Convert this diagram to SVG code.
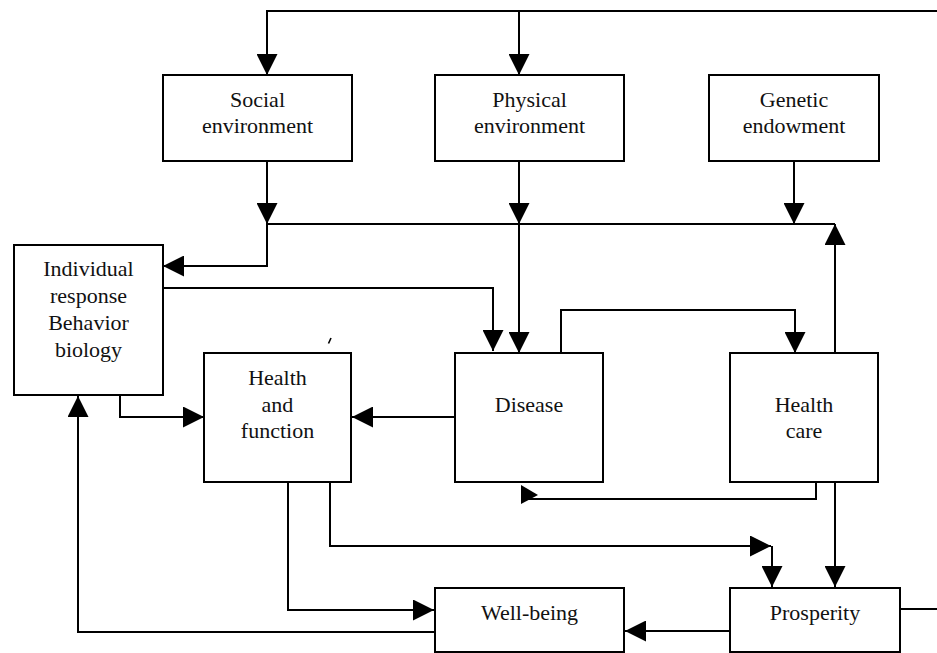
<svg xmlns="http://www.w3.org/2000/svg" width="937" height="653" viewBox="0 0 937 653">
  <style>
    .box { fill: #fff; stroke: #000; stroke-width: 2; }
    .lbl { font-family: 'Liberation Serif', 'DejaVu Serif', 'Times New Roman', serif; font-size: 22px; fill: #111; text-anchor: middle; }
    .wire { fill: none; stroke: #000; stroke-width: 2; }
    .head { fill: #000; }
  </style>
  <defs>
    <marker id="arrow" markerUnits="userSpaceOnUse" markerWidth="21" markerHeight="21" viewBox="0 0 20 20" refX="20" refY="10" orient="auto">
      <path d="M0,0 L20,10 L0,20 z" fill="#000"/>
    </marker>
  </defs>
  <rect width="937" height="653" fill="#fff"/>

  <!-- connectors -->
  <g id="connectors">
    <!-- top feedback bus into the two environment boxes -->
    <path class="wire" d="M937,11 H267 V75" marker-end="url(#arrow)"/>
    <path class="wire" d="M519,11 V75" marker-end="url(#arrow)"/>
    <!-- environment / genetics outputs onto the shared bus -->
    <path class="wire" d="M267,161 V224" marker-end="url(#arrow)"/>
    <path class="wire" d="M519,161 V224" marker-end="url(#arrow)"/>
    <path class="wire" d="M794,161 V224" marker-end="url(#arrow)"/>
    <path class="wire" d="M267,224 H835"/>
    <!-- bus to individual response -->
    <path class="wire" d="M267,224 V266 H163" marker-end="url(#arrow)"/>
    <!-- bus to disease -->
    <path class="wire" d="M519,224 V353" marker-end="url(#arrow)"/>
    <!-- individual response to disease -->
    <path class="wire" d="M163,288 H493 V351" marker-end="url(#arrow)"/>
    <!-- individual response to health and function -->
    <path class="wire" d="M120,395 V417 H204" marker-end="url(#arrow)"/>
    <!-- disease to health and function -->
    <path class="wire" d="M455,417 H352" marker-end="url(#arrow)"/>
    <!-- disease to health care -->
    <path class="wire" d="M561,353 V310 H795 V353" marker-end="url(#arrow)"/>
    <!-- health care up to the bus -->
    <path class="wire" d="M835,353 V224" marker-end="url(#arrow)"/>
    <!-- health care back to disease -->
    <path class="wire" d="M816,482 V499 H528"/>
    <polygon class="head" points="521,485 538,495 521,504"/>
    <!-- health care to prosperity -->
    <path class="wire" d="M835,482 V587" marker-end="url(#arrow)"/>
    <!-- health and function to prosperity -->
    <path class="wire" d="M330,482 V546 H771" marker-end="url(#arrow)"/>
    <path class="wire" d="M772,546 V587" marker-end="url(#arrow)"/>
    <!-- health and function to well-being -->
    <path class="wire" d="M288,482 V610 H434" marker-end="url(#arrow)"/>
    <!-- prosperity to well-being -->
    <path class="wire" d="M730,631 H625" marker-end="url(#arrow)"/>
    <!-- well-being back to individual response -->
    <path class="wire" d="M435,632 H78 V396" marker-end="url(#arrow)"/>
    <!-- prosperity outward -->
    <path class="wire" d="M900,609 H937"/>
    <!-- small stray tick -->
    <path d="M328.5,343.5 L331,338" stroke="#000" stroke-width="1.6" fill="none"/>
  </g>

  <g id="social">
    <rect class="box" x="163" y="75" width="189" height="86"/>
    <text class="lbl" x="257.5" y="107">Social</text>
    <text class="lbl" x="257.5" y="133">environment</text>
  </g>
  <g id="physical">
    <rect class="box" x="435" y="75" width="189" height="86"/>
    <text class="lbl" x="529.5" y="107">Physical</text>
    <text class="lbl" x="529.5" y="133">environment</text>
  </g>
  <g id="genetic">
    <rect class="box" x="709" y="75" width="170" height="86"/>
    <text class="lbl" x="794" y="107">Genetic</text>
    <text class="lbl" x="794" y="133">endowment</text>
  </g>
  <g id="individual">
    <rect class="box" x="14" y="245" width="149" height="150"/>
    <text class="lbl" x="88.5" y="276">Individual</text>
    <text class="lbl" x="88.5" y="303">response</text>
    <text class="lbl" x="88.5" y="330">Behavior</text>
    <text class="lbl" x="88.5" y="357">biology</text>
  </g>
  <g id="health-function">
    <rect class="box" x="204" y="353" width="147" height="129"/>
    <text class="lbl" x="277.5" y="385">Health</text>
    <text class="lbl" x="277.5" y="412">and</text>
    <text class="lbl" x="277.5" y="438">function</text>
  </g>
  <g id="disease">
    <rect class="box" x="455" y="353" width="148" height="129"/>
    <text class="lbl" x="529" y="412">Disease</text>
  </g>
  <g id="health-care">
    <rect class="box" x="730" y="353" width="148" height="129"/>
    <text class="lbl" x="804" y="412">Health</text>
    <text class="lbl" x="804" y="438">care</text>
  </g>
  <g id="well-being">
    <rect class="box" x="435" y="588" width="189" height="64"/>
    <text class="lbl" x="529.5" y="620">Well-being</text>
  </g>
  <g id="prosperity">
    <rect class="box" x="730" y="588" width="170" height="64"/>
    <text class="lbl" x="815" y="620">Prosperity</text>
  </g>
</svg>
